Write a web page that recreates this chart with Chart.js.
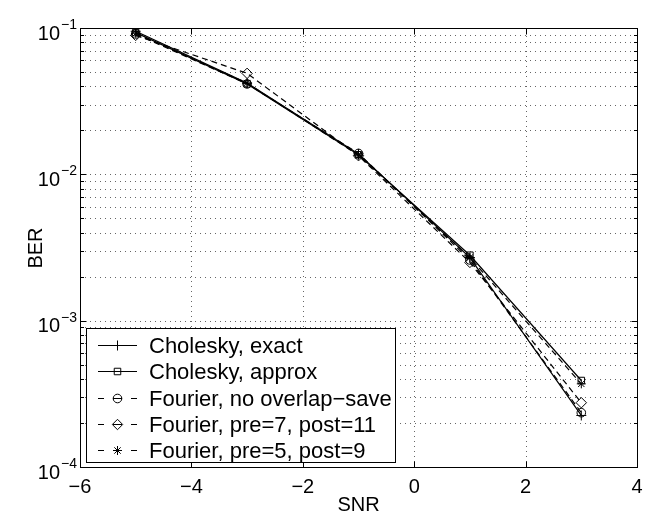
<!DOCTYPE html>
<html><head><meta charset="utf-8">
<script src="https://cdn.jsdelivr.net/npm/chart.js@4/dist/chart.umd.min.js"></script>
<style>html,body{margin:0;padding:0;background:#fff;overflow:hidden}#wrap{width:653px;height:515px;position:relative}</style>
</head><body><div id="wrap"><canvas id="c" width="653" height="515"></canvas></div>
<script>
// ---- data ----
const snr = [-5, -3, -1, 1, 3];
const cholExact   = [0.095, 0.042, 0.0138, 0.0027, 0.000225];
const cholApprox  = [0.093, 0.0415, 0.0136, 0.0028, 0.00039];
const fourierNoOS = [0.091, 0.0415, 0.0139, 0.0026, 0.000235];
const fourierP7   = [0.089, 0.049, 0.0134, 0.0025, 0.000275];
const fourierP5   = [0.092, 0.042, 0.0135, 0.0027, 0.00037];
const seriesNames = ['Cholesky, exact', 'Cholesky, approx', 'Fourier, no overlap\u2212save', 'Fourier, pre=7, post=11', 'Fourier, pre=5, post=9'];
const xTicks = [-6, -4, -2, 0, 2, 4];
const yTickExps = [-4, -3, -2, -1];
const xTitle = 'SNR';
const yTitle = 'BER';

// ---- styles ----
const seriesValues = [cholExact, cholApprox, fourierNoOS, fourierP7, fourierP5];
const styles = [
  {pointStyle: 'cross', r: 5, dash: []},
  {pointStyle: 'rect', r: 4.6, dash: []},
  {pointStyle: 'circle', r: 4.3, dash: [6, 4]},
  {pointStyle: 'rectRot', r: 5.2, dash: [6, 4]},
  {pointStyle: 'star', r: 4.5, dash: [6, 4]}
];
const FONT = '"Liberation Sans", Arial, Helvetica, sans-serif';

const datasets = seriesValues.map((vals, i) => ({
  label: seriesNames[i],
  data: snr.map((x, j) => ({x: x, y: vals[j]})),
  borderColor: '#000',
  borderWidth: 1.2,
  borderDash: styles[i].dash,
  pointStyle: styles[i].pointStyle,
  pointRadius: styles[i].r,
  pointBorderColor: '#000',
  pointBackgroundColor: 'rgba(0,0,0,0)',
  pointBorderWidth: 1,
  fill: false,
  tension: 0
}));

function drawMarker(ctx, style, x, y, r) {
  ctx.save();
  ctx.setLineDash([]);
  ctx.lineWidth = 1;
  ctx.strokeStyle = '#000';
  ctx.beginPath();
  if (style === 'cross' || style === 'star') {
    ctx.moveTo(x - r, y); ctx.lineTo(x + r, y);
    ctx.moveTo(x, y - r); ctx.lineTo(x, y + r);
    if (style === 'star') {
      const d = r * Math.SQRT1_2;
      ctx.moveTo(x - d, y - d); ctx.lineTo(x + d, y + d);
      ctx.moveTo(x - d, y + d); ctx.lineTo(x + d, y - d);
    }
  } else if (style === 'rect') {
    const h = r * Math.SQRT1_2;
    ctx.rect(x - h, y - h, 2 * h, 2 * h);
  } else if (style === 'circle') {
    ctx.arc(x, y, r, 0, Math.PI * 2);
  } else if (style === 'rectRot') {
    ctx.moveTo(x - r, y); ctx.lineTo(x, y - r); ctx.lineTo(x + r, y); ctx.lineTo(x, y + r); ctx.closePath();
  }
  ctx.stroke();
  ctx.restore();
}

const framePlugin = {
  id: 'frame',
  beforeDatasetsDraw(chart) {
    const ctx = chart.ctx, a = chart.chartArea;
    const xs = chart.scales.x, ys = chart.scales.y;
    ctx.save();
    ctx.lineWidth = 1;
    ctx.strokeStyle = '#666';
    ctx.setLineDash([1, 4]);
    for (let e = yTickExps[0]; e < yTickExps[yTickExps.length - 1]; e++) {
      for (let m = 1; m <= 9; m++) {
        const v = m * Math.pow(10, e);
        if (m === 1 && e === yTickExps[0]) continue;
        const y = Math.round(ys.getPixelForValue(v)) + 0.5;
        ctx.beginPath(); ctx.moveTo(a.left, y); ctx.lineTo(a.right, y); ctx.stroke();
      }
    }
    xTicks.slice(1, -1).forEach(t => {
      const x = Math.round(xs.getPixelForValue(t)) + 0.5;
      ctx.beginPath(); ctx.moveTo(x, a.bottom); ctx.lineTo(x, a.top); ctx.stroke();
    });
    ctx.restore();
  },
  afterDatasetsDraw(chart) {
    const ctx = chart.ctx, a = chart.chartArea;
    const xs = chart.scales.x, ys = chart.scales.y;
    ctx.save();
    ctx.setLineDash([]);
    ctx.strokeStyle = '#000';
    ctx.lineWidth = 1;
    const L = Math.round(a.left) + 0.5, R = Math.round(a.right) + 0.5;
    const T = Math.round(a.top) + 0.5, B = Math.round(a.bottom) + 0.5;
    ctx.beginPath();
    xTicks.forEach(t => {
      const x = Math.round(xs.getPixelForValue(t)) + 0.5;
      ctx.moveTo(x, B); ctx.lineTo(x, B - 6);
      ctx.moveTo(x, T); ctx.lineTo(x, T + 6);
    });
    for (let e = yTickExps[0]; e <= yTickExps[yTickExps.length - 1]; e++) {
      for (let m = 1; m <= 9; m++) {
        const v = m * Math.pow(10, e);
        if (v > Math.pow(10, yTickExps[yTickExps.length - 1]) * 1.0001) break;
        const y = Math.round(ys.getPixelForValue(v)) + 0.5;
        const len = m === 1 ? 6 : 3.5;
        ctx.moveTo(L, y); ctx.lineTo(L + len, y);
        ctx.moveTo(R, y); ctx.lineTo(R - len, y);
      }
    }
    ctx.stroke();
    ctx.strokeRect(L, T, R - L, B - T);

    ctx.fillStyle = '#000';
    ctx.font = '20px ' + FONT;
    ctx.textAlign = 'center';
    ctx.textBaseline = 'alphabetic';
    xTicks.forEach(t => {
      const s = t < 0 ? '\u2212' + Math.abs(t) : String(t);
      ctx.fillText(s, xs.getPixelForValue(t), 493);
    });
    yTickExps.forEach(e => {
      const y = ys.getPixelForValue(Math.pow(10, e));
      ctx.font = '14px ' + FONT;
      const sup = '\u2212' + Math.abs(e);
      const sw = ctx.measureText(sup).width;
      ctx.font = '20px ' + FONT;
      const bw = ctx.measureText('10').width;
      const right = 77;
      ctx.textAlign = 'left';
      ctx.fillText('10', right - sw - bw - 1, y + 11.5);
      ctx.font = '14px ' + FONT;
      ctx.fillText(sup, right - sw, y + 1);
    });
    ctx.font = '20px ' + FONT;
    ctx.textAlign = 'center';
    ctx.fillText(xTitle, (a.left + a.right) / 2, 511);
    ctx.save();
    ctx.translate(42, (a.top + a.bottom) / 2 + 0.5);
    ctx.rotate(-Math.PI / 2);
    ctx.fillText(yTitle, 0, 0);
    ctx.restore();

    // legend
    const bx = 86.5, by = 328.5, bw2 = 309, bh = 134;
    ctx.fillStyle = '#fff';
    ctx.fillRect(bx, by, bw2, bh);
    ctx.strokeStyle = '#000';
    ctx.lineWidth = 1;
    ctx.strokeRect(bx, by, bw2, bh);
    ctx.font = '22px ' + FONT;
    ctx.textAlign = 'left';
    ctx.fillStyle = '#000';
    seriesNames.forEach((name, i) => {
      const ry = Math.round(345 + i * 26.3) + 0.5;
      ctx.save();
      ctx.lineWidth = 1.2;
      ctx.beginPath();
      if (styles[i].dash.length) {
        ctx.moveTo(98, ry); ctx.lineTo(104, ry);
        ctx.moveTo(113, ry); ctx.lineTo(122, ry);
        ctx.moveTo(131, ry); ctx.lineTo(137, ry);
      } else {
        ctx.moveTo(98, ry); ctx.lineTo(137, ry);
      }
      ctx.stroke();
      ctx.restore();
      drawMarker(ctx, styles[i].pointStyle, 117.5, ry, styles[i].r);
      ctx.fillText(name, 149, ry + 7.5);
    });
    ctx.restore();
  }
};

new Chart(document.getElementById('c'), {
  type: 'line',
  data: {datasets: datasets},
  options: {
    responsive: false,
    animation: false,
    devicePixelRatio: 1,
    layout: {padding: {left: 80, right: 16, top: 28, bottom: 48}},
    scales: {
      x: {type: 'linear', min: -6, max: 4, display: false},
      y: {type: 'logarithmic', min: 1e-4, max: 1e-1, display: false}
    },
    plugins: {legend: {display: false}, tooltip: {enabled: false}},
    elements: {line: {borderCapStyle: 'butt'}}
  },
  plugins: [framePlugin]
});
</script>
</body></html>
